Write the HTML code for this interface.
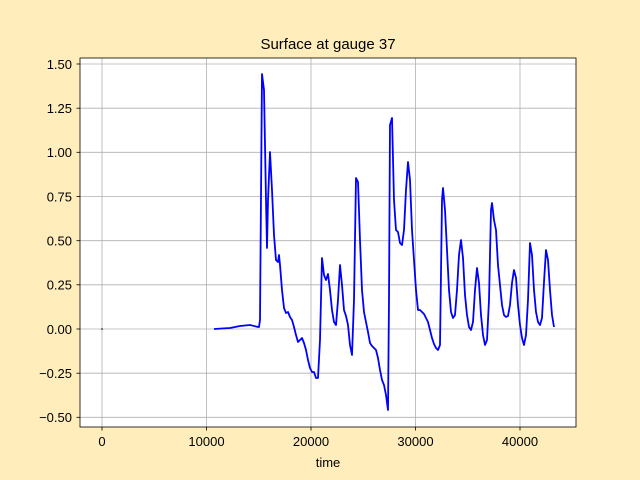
<!DOCTYPE html>
<html><head><meta charset="utf-8"><style>
html,body{margin:0;padding:0;background:#ffeebb;}
svg{display:block;font-family:"Liberation Sans","DejaVu Sans",sans-serif;}
</style></head><body>
<svg width="640" height="480" viewBox="0 0 640 480">
<rect width="640" height="480" fill="#ffeebb"/>
<rect x="80" y="58" width="496" height="369" fill="#fff"/>
<g stroke="#b0b0b0" stroke-width="0.8">
<line x1="102" y1="58" x2="102" y2="427"/>
<line x1="206.5" y1="58" x2="206.5" y2="427"/>
<line x1="311" y1="58" x2="311" y2="427"/>
<line x1="415.5" y1="58" x2="415.5" y2="427"/>
<line x1="520" y1="58" x2="520" y2="427"/>
<line x1="80" y1="417.3" x2="576" y2="417.3"/>
<line x1="80" y1="373.2" x2="576" y2="373.2"/>
<line x1="80" y1="329" x2="576" y2="329"/>
<line x1="80" y1="284.8" x2="576" y2="284.8"/>
<line x1="80" y1="240.7" x2="576" y2="240.7"/>
<line x1="80" y1="196.5" x2="576" y2="196.5"/>
<line x1="80" y1="152.3" x2="576" y2="152.3"/>
<line x1="80" y1="108.2" x2="576" y2="108.2"/>
<line x1="80" y1="64" x2="576" y2="64"/>
</g>
<circle cx="102" cy="329" r="0.8" fill="#000"/>
<polyline fill="none" stroke="#0000ff" stroke-width="1.8" stroke-linejoin="round" points="214,329 230,328 240,326 250,325 258,327 259,327 260,320 262,74 264,90 266,200 267,248 268,200 270,152 272,190 274,235 276,260 278,262 279,255 280,265 282,290 284,308 286,313 288,312 290,317 292,320 294,327 296,335 298,342 300,340 302,338 304,343 306,350 308,360 310,368 312,372 314,372 316,378 318,378 320,340 322,258 324,275 326,280 328,274 330,290 332,310 334,322 336,325 338,300 340,265 342,285 344,310 346,316 348,325 350,345 352,355 354,300 356,178 358,182 360,240 362,290 364,312 366,322 368,332 370,343 372,346 374,348 376,350 378,358 380,370 382,380 384,385 386,395 388,410 389,300 390,125 392,118 394,200 396,230 398,232 400,243 402,245 404,230 406,190 408,162 410,180 412,230 414,260 416,290 418,310 420,310 422,312 424,314 426,318 428,322 430,330 432,338 434,344 436,348 438,350 440,345 442,200 443,188 445,210 447,250 449,290 451,312 453,318 455,315 457,290 459,255 461,240 463,258 465,295 467,315 469,327 471,330 473,322 475,290 477,268 479,283 481,315 483,335 485,345 487,340 489,300 491,210 492,203 494,220 496,230 498,265 500,285 502,305 504,315 506,317 508,316 510,305 512,283 514,270 516,278 518,305 520,325 522,338 524,345 526,335 528,300 530,243 532,255 534,290 536,312 538,322 540,325 542,318 544,282 546,250 548,260 550,290 552,315 554,327"/>
<rect x="80" y="58" width="496" height="369" fill="none" stroke="#000" stroke-width="0.8"/>
<g stroke="#000" stroke-width="0.8">
<line x1="102" y1="427" x2="102" y2="430.5"/>
<line x1="206.5" y1="427" x2="206.5" y2="430.5"/>
<line x1="311" y1="427" x2="311" y2="430.5"/>
<line x1="415.5" y1="427" x2="415.5" y2="430.5"/>
<line x1="520" y1="427" x2="520" y2="430.5"/>
<line x1="76.5" y1="417.3" x2="80" y2="417.3"/>
<line x1="76.5" y1="373.2" x2="80" y2="373.2"/>
<line x1="76.5" y1="329" x2="80" y2="329"/>
<line x1="76.5" y1="284.8" x2="80" y2="284.8"/>
<line x1="76.5" y1="240.7" x2="80" y2="240.7"/>
<line x1="76.5" y1="196.5" x2="80" y2="196.5"/>
<line x1="76.5" y1="152.3" x2="80" y2="152.3"/>
<line x1="76.5" y1="108.2" x2="80" y2="108.2"/>
<line x1="76.5" y1="64" x2="80" y2="64"/>
</g>
<g font-size="13" fill="#000" text-anchor="middle">
<text x="102" y="446">0</text>
<text x="206.5" y="446">10000</text>
<text x="311" y="446">20000</text>
<text x="415.5" y="446">30000</text>
<text x="520" y="446">40000</text>
<text x="328" y="467">time</text>
<text x="328" y="49" font-size="15">Surface at gauge 37</text>
</g>
<g font-size="13" fill="#000" text-anchor="end">
<text x="72" y="422">−0.50</text>
<text x="72" y="378">−0.25</text>
<text x="72" y="334">0.00</text>
<text x="72" y="289.5">0.25</text>
<text x="72" y="245.5">0.50</text>
<text x="72" y="201.5">0.75</text>
<text x="72" y="157">1.00</text>
<text x="72" y="113">1.25</text>
<text x="72" y="69">1.50</text>
</g>
</svg>
</body></html>
